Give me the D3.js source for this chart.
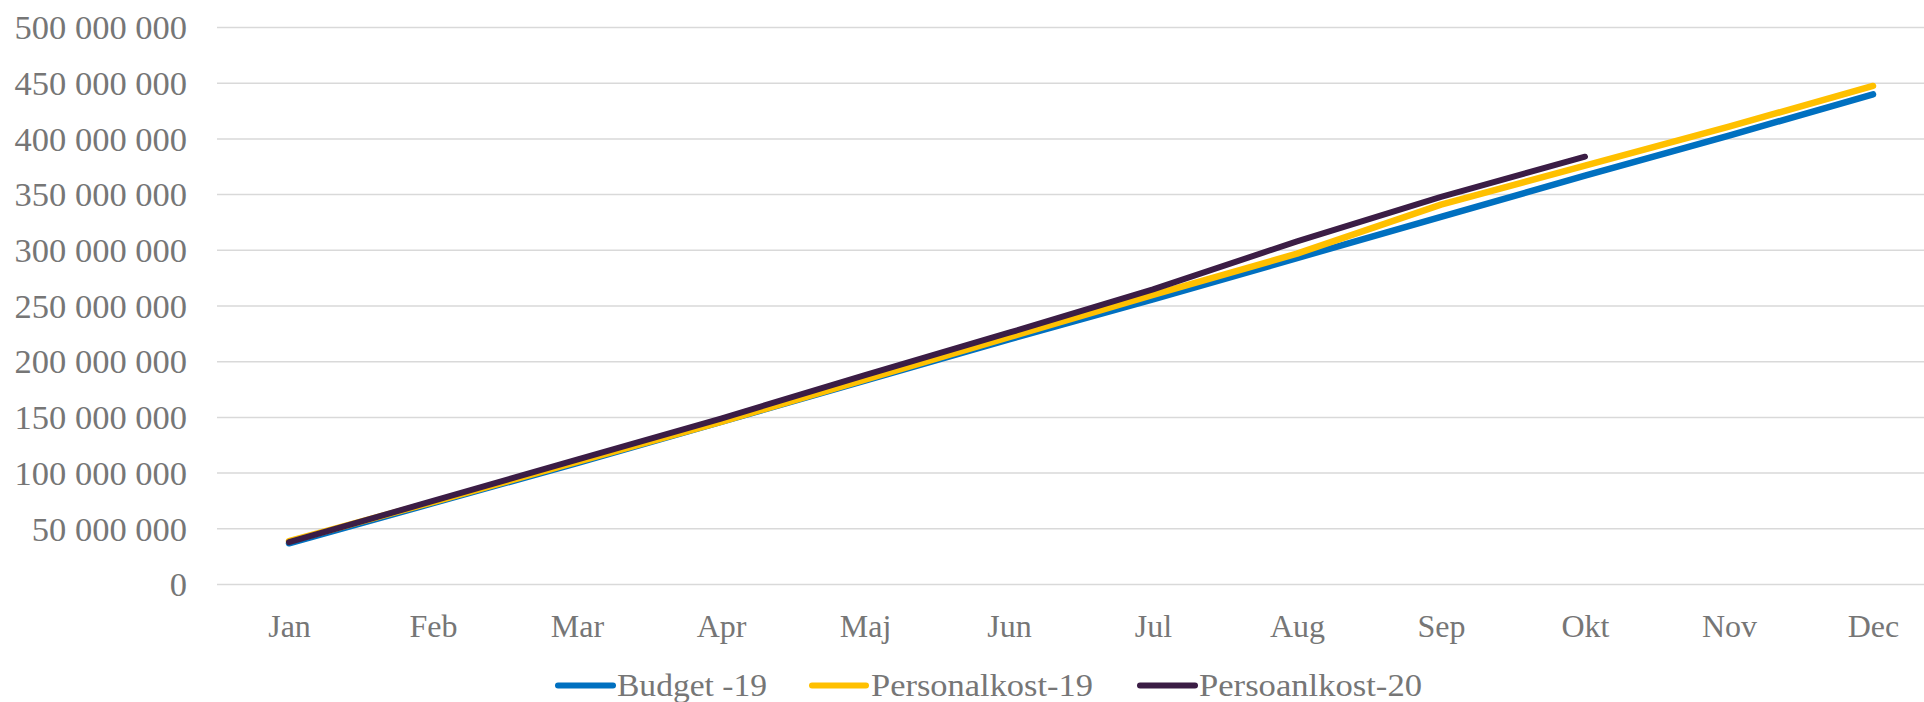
<!DOCTYPE html>
<html>
<head>
<meta charset="utf-8">
<script src="https://cdn.jsdelivr.net/npm/d3@7"></script>
<style>
  html, body { margin: 0; padding: 0; background: #fff; }
  svg { display: block; }
  text { font-family: "Liberation Serif", "DejaVu Serif", serif; fill: #767676; }
</style>
</head>
<body>
<svg id="chart" width="1924" height="702"></svg>
<script>
const months = ["Jan","Feb","Mar","Apr","Maj","Jun","Jul","Aug","Sep","Okt","Nov","Dec"];
const yTicks = [0, 50e6, 100e6, 150e6, 200e6, 250e6, 300e6, 350e6, 400e6, 450e6, 500e6];
const budget19 = [37e6, 73e6, 109e6, 146e6, 183e6, 220e6, 256e6, 293e6, 330e6, 367e6, 403e6, 440e6];
const personal19 = [39e6, 74e6, 110e6, 146e6, 184e6, 222e6, 260e6, 297e6, 341e6, 376e6, 411e6, 447.5e6];
const personal20 = [38e6, 75e6, 112e6, 149e6, 188e6, 226e6, 265e6, 308e6, 348e6, 384e6];
const seriesNames = ["Budget -19", "Personalkost-19", "Persoanlkost-20"];
const seriesColors = ["#0070C0", "#FFC000", "#3B1D45"];

const svg = d3.select("#chart");
const plotLeft = 217, plotRight = 1945, plotTop = 27.5, plotBottom = 584.5;

const x = d3.scalePoint().domain(months).range([289, 1873]);
const y = d3.scaleLinear().domain([0, 500e6]).range([plotBottom, plotTop]);

const locale = d3.formatLocale({decimal: ",", thousands: " ", grouping: [3], currency: ["", " kr"]});
const fmt = locale.format(",.0f");

// gridlines
svg.append("g")
  .selectAll("line")
  .data(yTicks)
  .join("line")
  .attr("x1", plotLeft).attr("x2", plotRight)
  .attr("y1", d => y(d)).attr("y2", d => y(d))
  .attr("stroke", "#D9D9D9").attr("stroke-width", 1.5);

// y axis labels
const yAxis = d3.axisLeft(y).tickValues(yTicks).tickFormat(fmt).tickSize(0).tickPadding(0);
const gy = svg.append("g").attr("transform", "translate(187,0)").call(yAxis);
gy.select(".domain").remove();
gy.selectAll("text")
  .attr("font-family", "Liberation Serif, DejaVu Serif, serif")
  .attr("font-size", 33)
  .attr("fill", "#767676")
  .attr("dy", "0.34em")
  .each(function() {
    const w = this.getComputedTextLength();
    d3.select(this).attr("textLength", w * 1.045).attr("lengthAdjust", "spacingAndGlyphs");
  });

// x axis labels
const xAxis = d3.axisBottom(x).tickSize(0).tickPadding(0);
const gx = svg.append("g").attr("transform", "translate(0,637)").call(xAxis);
gx.select(".domain").remove();
gx.selectAll("text")
  .attr("font-family", "Liberation Serif, DejaVu Serif, serif")
  .attr("font-size", 32)
  .attr("fill", "#767676")
  .attr("dy", 0);

// lines
const allSeries = [budget19, personal19, personal20];
const widths = [6.5, 6.5, 6];
const line = d3.line().x((d, i) => x(months[i])).y(d => y(d));
allSeries.forEach((s, k) => {
  svg.append("path")
    .datum(s)
    .attr("d", line)
    .attr("fill", "none")
    .attr("stroke", seriesColors[k])
    .attr("stroke-width", widths[k])
    .attr("stroke-linecap", "round")
    .attr("stroke-linejoin", "round");
});

// legend
const legendItems = [
  {name: seriesNames[0], color: seriesColors[0], x0: 558, x1: 613, tx: 617, tw: 150},
  {name: seriesNames[1], color: seriesColors[1], x0: 812, x1: 866, tx: 871, tw: 222},
  {name: seriesNames[2], color: seriesColors[2], x0: 1140, x1: 1195, tx: 1199, tw: 223}
];
const lg = svg.append("g");
legendItems.forEach(it => {
  lg.append("line")
    .attr("x1", it.x0).attr("x2", it.x1)
    .attr("y1", 685.5).attr("y2", 685.5)
    .attr("stroke", it.color).attr("stroke-width", 6)
    .attr("stroke-linecap", "round");
  lg.append("text")
    .attr("x", it.tx).attr("y", 696)
    .attr("font-size", 32)
    .attr("textLength", it.tw)
    .attr("lengthAdjust", "spacingAndGlyphs")
    .text(it.name);
});
</script>
</body>
</html>
